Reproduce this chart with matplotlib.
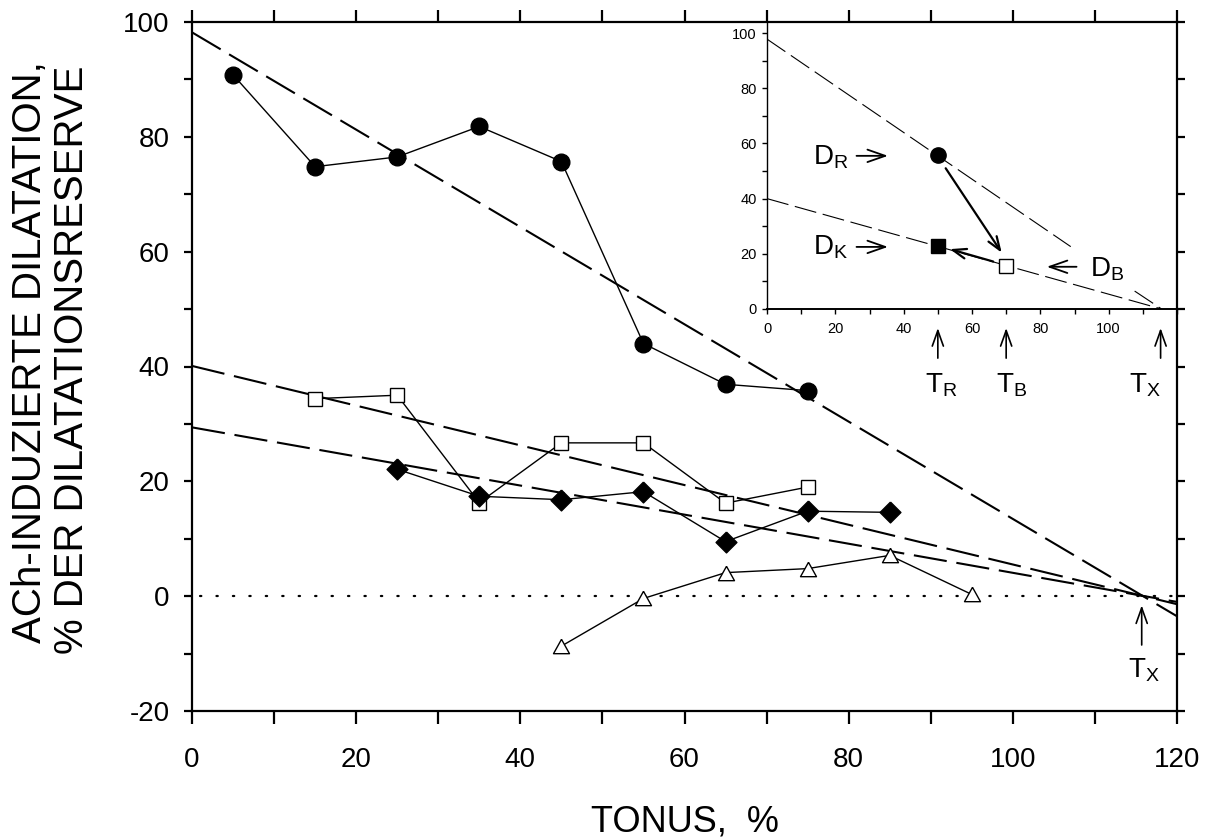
import numpy as np
import matplotlib
matplotlib.use('Agg')
import matplotlib.pyplot as plt
from matplotlib.ticker import MultipleLocator

plt.rcParams['font.family'] = ['Liberation Sans', 'DejaVu Sans']
plt.rcParams['mathtext.fontset'] = 'custom'
plt.rcParams['mathtext.rm'] = 'Liberation Sans'
plt.rcParams['mathtext.it'] = 'Liberation Sans:italic'
plt.rcParams['mathtext.bf'] = 'Liberation Sans:bold'
plt.rcParams['axes.unicode_minus'] = False

# ---------------- data (main chart) ----------------
tonus_circ = [5, 15, 25, 35, 45, 55, 65, 75]
dil_circ = [90.8, 74.8, 76.5, 81.8, 75.7, 44.0, 36.9, 35.8]

tonus_sq = [15, 25, 35, 45, 55, 65, 75]
dil_sq = [34.4, 35.0, 16.3, 26.7, 26.7, 16.2, 19.0]

tonus_dia = [25, 35, 45, 55, 65, 75, 85]
dil_dia = [22.1, 17.4, 16.8, 18.2, 9.5, 14.8, 14.6]

tonus_tri = [45, 55, 65, 75, 85, 95]
dil_tri = [-8.7, -0.4, 4.1, 4.8, 7.1, 0.3]

fit_x = [0, 120]
fit_circ = [98.2, -3.5]
fit_sq = [40.1, -1.4]
fit_dia = [29.4, -1.0]

zero_x = [1, 120]
zero_y = [0, 0]

tx_main = 115.7

# ---------------- data (inset) ----------------
ins_circ = (50, 55.8)
ins_sq_filled = (50, 22.7)
ins_sq_open = (70, 15.6)
ins_fit1a_x = [0, 88.9]
ins_fit1a_y = [97.8, 22.6]
ins_fit1b_x = [107.6, 115.5]
ins_fit1b_y = [6.5, 0.0]
ins_fit2_x = [0, 115.5]
ins_fit2_y = [40.0, 0.0]

# ---------------- figure ----------------
fig = plt.figure(figsize=(12.16, 8.4), dpi=100)
ax = fig.add_axes([192/1216, 1-711/840, (1177-192)/1216, (711-22)/840])

diamond = [(0, 1), (1, 0), (0, -1), (-1, 0), (0, 1)]
triangle = [(0, 0.45), (0.5, -0.45), (-0.5, -0.45), (0, 0.45)]

dash_kw = dict(color='black', lw=1.5, dashes=(16, 4.7))
ax.plot(fit_x, fit_circ, zorder=2, **dash_kw)
ax.plot(fit_x, fit_sq, zorder=2, **dash_kw)
ax.plot(fit_x, fit_dia, zorder=2, **dash_kw)
ax.plot(zero_x, zero_y, color='black', lw=1.6, dashes=(0.6, 6.8),
        dash_capstyle='round', zorder=2)

ln_kw = dict(color='black', lw=1.0, mew=1.0, mec='black')
ax.plot(tonus_circ, dil_circ, marker='o', ms=12, mfc='black', zorder=3, **ln_kw)
ax.plot(tonus_sq, dil_sq, marker='s', ms=10.4, mfc='white', zorder=3, **ln_kw)
ax.plot(tonus_dia, dil_dia, marker=diamond, ms=15, mfc='black', zorder=4, **ln_kw)
ax.plot(tonus_tri, dil_tri, marker=triangle, ms=11.5, mfc='white', zorder=3, **ln_kw)

ax.set_xlim(0, 120)
ax.set_ylim(-20, 100)
for s in ax.spines.values():
    s.set_linewidth(1.6)
ax.xaxis.set_major_locator(MultipleLocator(20))
ax.xaxis.set_minor_locator(MultipleLocator(10))
ax.yaxis.set_major_locator(MultipleLocator(20))
ax.yaxis.set_minor_locator(MultipleLocator(10))
ax.tick_params(axis='x', which='both', direction='out', length=9, width=1.6,
               top=True, bottom=True, labelsize=20, pad=17)
ax.tick_params(axis='y', which='both', direction='out', length=6, width=1.6,
               left=True, right=True, labelsize=20, pad=10)

# T_X annotation on main chart
ax.annotate('', xy=(tx_main, -1.6), xytext=(tx_main, -8.5),
            arrowprops=dict(arrowstyle='->,head_length=0.7,head_width=0.25',
                            lw=1.2, shrinkA=0, shrinkB=0, mutation_scale=16))
ax.text(tx_main + 0.3, -14.1, r'$\mathrm{T_X}$', fontsize=20, ha='center',
        va='baseline')

# axis labels
fig.text(685/1216, 1-832/840, 'TONUS,  %', fontsize=26, ha='center', va='baseline')
fig.text(30/1216, 1-352/840, 'ACh-INDUZIERTE DILATATION,', fontsize=29,
         rotation=90, ha='center', va='center')
fig.text(72/1216, 1-360/840, '% DER DILATATIONSRESERVE', fontsize=29,
         rotation=90, ha='center', va='center')

# ---------------- inset ----------------
ins = fig.add_axes([767/1216, 1-309/840, (1177-767)/1216, (309-22)/840])
ins.set_facecolor('none')
ins.set_xlim(0, 120)
ins.set_ylim(0, 104)
ins.spines['top'].set_visible(False)
ins.spines['right'].set_visible(False)
ins.spines['left'].set_linewidth(1.0)
ins.spines['bottom'].set_linewidth(1.4)
ins.xaxis.set_minor_locator(MultipleLocator(10))
ins.yaxis.set_minor_locator(MultipleLocator(10))
ins.set_xticks([0, 20, 40, 60, 80, 100])
ins.set_yticks([0, 20, 40, 60, 80, 100])
ins.tick_params(which='both', direction='out', length=3.5, width=1.0,
                labelsize=10.5, pad=4)
ins.tick_params(axis='x', pad=6)

thin_dash = dict(color='black', lw=0.8, dashes=(20, 6))
ins.plot(ins_fit1a_x, ins_fit1a_y, **thin_dash)
ins.plot(ins_fit1b_x, ins_fit1b_y, **thin_dash)
ins.plot(ins_fit2_x, ins_fit2_y, **thin_dash)

ins.plot(*ins_circ, marker='o', ms=11, mfc='black', mec='black', zorder=4)
ins.plot(*ins_sq_filled, marker='s', ms=10, mfc='black', mec='black', zorder=4)
ins.plot(*ins_sq_open, marker='s', ms=10, mfc='white', mec='black', mew=1.0, zorder=4)

arr = dict(arrowstyle='->,head_length=0.6,head_width=0.22', lw=1.6,
           shrinkA=0, shrinkB=0, mutation_scale=16)
ins.annotate('', xy=(68.7, 20.4), xytext=(52.3, 51.0), arrowprops=arr)
ins.annotate('', xy=(53.5, 21.7), xytext=(66.2, 17.2), arrowprops=arr)

lab_arr = dict(arrowstyle='->,head_length=0.8,head_width=0.28', lw=1.3,
               shrinkA=0, shrinkB=0, mutation_scale=16)
ins.annotate('', xy=(35.4, 55.5), xytext=(26.2, 55.5), arrowprops=lab_arr)
ins.annotate('', xy=(35.4, 22.5), xytext=(26.2, 22.5), arrowprops=lab_arr)
ins.annotate('', xy=(81.9, 15.3), xytext=(90.6, 15.3), arrowprops=lab_arr)
ins.text(13.5, 52.2, r'$\mathrm{D_R}$', fontsize=20, ha='left', va='baseline')
ins.text(13.5, 19.6, r'$\mathrm{D_K}$', fontsize=20, ha='left', va='baseline')
ins.text(94.5, 11.7, r'$\mathrm{D_B}$', fontsize=20, ha='left', va='baseline')

for xa, xt, lab in [(50, 51.1, 'T_R'), (70, 71.6, 'T_B'), (115.2, 110.6, 'T_X')]:
    ins.annotate('', xy=(xa, -6.9), xytext=(xa, -17.8), annotation_clip=False,
                 arrowprops=dict(arrowstyle='->,head_length=0.7,head_width=0.25',
                                 lw=1.2, shrinkA=0, shrinkB=0, mutation_scale=16))
    ins.text(xt, -30.4, r'$\mathrm{%s}$' % lab, fontsize=20, ha='center',
             va='baseline', clip_on=False)

fig.savefig('out.png', dpi=100)
